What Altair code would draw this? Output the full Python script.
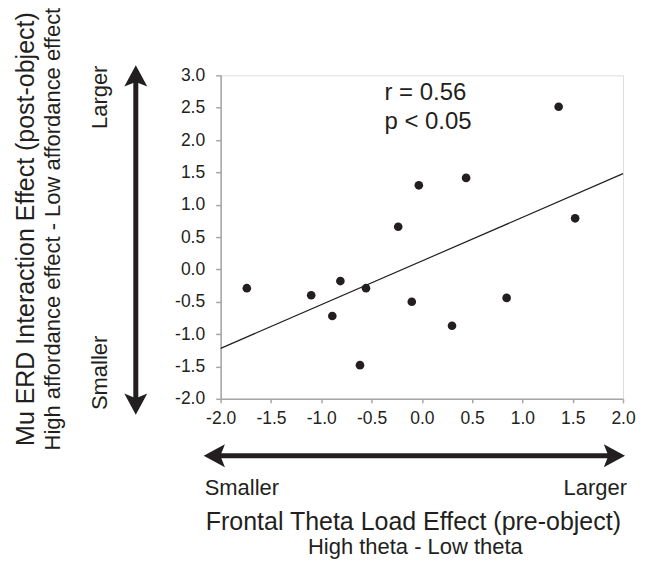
import altair as alt
import pandas as pd

# ---- data ----
theta_load = [-1.74, -1.10, -0.81, -0.89, -0.555, -0.615, -0.235, -0.03, -0.10, 0.44, 0.30, 0.843, 1.36, 1.524]
mu_erd = [-0.29, -0.40, -0.18, -0.72, -0.29, -1.48, 0.66, 1.30, -0.50, 1.415, -0.87, -0.44, 2.515, 0.79]
trend_x = [-2.0, 2.0]
trend_y = [-1.22, 1.48]
x_ticks = [-2.0, -1.5, -1.0, -0.5, 0.0, 0.5, 1.0, 1.5, 2.0]
y_ticks = [-2.0, -1.5, -1.0, -0.5, 0.0, 0.5, 1.0, 1.5, 2.0, 2.5, 3.0]
stats_lines = ["r = 0.56", "p < 0.05"]
x_title = "Frontal Theta Load Effect (pre-object)"
x_subtitle = "High theta - Low theta"
y_title = "Mu ERD Interaction Effect (post-object)"
y_subtitle = "High affordance effect - Low affordance effect"
dir_labels = ["Smaller", "Larger"]

FONT = "Liberation Sans"
INK = "#231f20"
AXIS_GREY = "#a6a6a6"
W, H = 403, 324

pts = pd.DataFrame({"x": theta_load, "y": mu_erd})
trend = pd.DataFrame({"x": trend_x, "y": trend_y})

label_expr = "(datum.value < 0 ? '-' : '') + format(abs(datum.value), '.1f')"

xs = alt.Scale(domain=[-2, 2], nice=False, zero=False)
ys = alt.Scale(domain=[-2, 3], nice=False, zero=False)

x_axis = alt.Axis(values=x_ticks, labelExpr=label_expr, title=None, grid=False,
                  labelFont=FONT, labelFontSize=17.5, labelColor=INK,
                  labelOverlap=False, labelFlush=False,
                  domainColor=AXIS_GREY, domainWidth=1.5, tickColor=AXIS_GREY,
                  tickWidth=1.5, tickSize=4, labelPadding=7)
y_axis = alt.Axis(values=y_ticks, labelExpr=label_expr, title=None, grid=False,
                  labelFont=FONT, labelFontSize=17.5, labelColor=INK,
                  labelOverlap=False, labelFlush=False, labelBound=False,
                  domainColor=AXIS_GREY, domainWidth=1.5, tickColor=AXIS_GREY,
                  tickWidth=1.5, tickSize=5, labelPadding=11)

points = alt.Chart(pts).mark_circle(size=75, color=INK, opacity=1).encode(
    x=alt.X("x:Q", scale=xs, axis=x_axis),
    y=alt.Y("y:Q", scale=ys, axis=y_axis),
)

line = alt.Chart(trend).mark_line(color=INK, strokeWidth=1.2).encode(
    x=alt.X("x:Q", scale=xs, axis=x_axis), y=alt.Y("y:Q", scale=ys, axis=y_axis)
)

one = pd.DataFrame({"k": [0]})


def label(text, x, y, size, angle=0, align="center", baseline="alphabetic"):
    return alt.Chart(pd.DataFrame({"t": [text]})).mark_text(
        font=FONT, fontSize=size, color=INK, align=align, baseline=baseline, angle=angle
    ).encode(x=alt.value(x), y=alt.value(y), text="t:N")


texts = [
    label(stats_lines[0], 164, 25, 24, align="left"),
    label(stats_lines[1], 164, 54, 24, align="left"),
    label(dir_labels[1], -121, 22, 22, angle=270, baseline="middle"),
    label(dir_labels[0], -121, 298, 22, angle=270, baseline="middle"),
    label(dir_labels[0], -16, 420, 22, align="left"),
    label(dir_labels[1], 407, 420, 22, align="right"),
    label(x_title, 193, 455, 25),
    label(x_subtitle, 195, 479, 22),
    label(y_title, -195, 154, 25, angle=270, baseline="middle"),
    label(y_subtitle, -168, 154, 22, angle=270, baseline="middle"),
]

HEAD = "M 1 0 L -0.85 -1 L -0.45 0 L -0.85 1 Z"


def shaft(x1, x2, y1, y2):
    return alt.Chart(one).mark_rule(color=INK, strokeWidth=5).encode(
        x=alt.value(x1), x2=alt.value(x2), y=alt.value(y1), y2=alt.value(y2)
    )


def head(x, y, angle):
    return alt.Chart(one).mark_point(shape=HEAD, filled=True, size=529, color=INK,
                                     opacity=1, strokeWidth=0, angle=angle).encode(
        x=alt.value(x), y=alt.value(y)
    )


arrows = [
    shaft(-5, 393, 381, 381),
    head(-5.5, 381, 180),
    head(393.5, 381, 0),
    shaft(-85, -85, 0, 330),
    head(-85, 1.5, 270),
    head(-85, 328.5, 90),
]

chart = alt.layer(line, points, *texts, *arrows).properties(
    width=W, height=H,
    autosize=alt.AutoSizeParams(type="none"),
    padding={"left": 213, "top": 67, "right": 14, "bottom": 160},
).configure_view(stroke=None).configure_axis(labelOverlap=False).configure(background="white")

chart.save("out.html", embed_options={"renderer": "svg", "actions": False})
